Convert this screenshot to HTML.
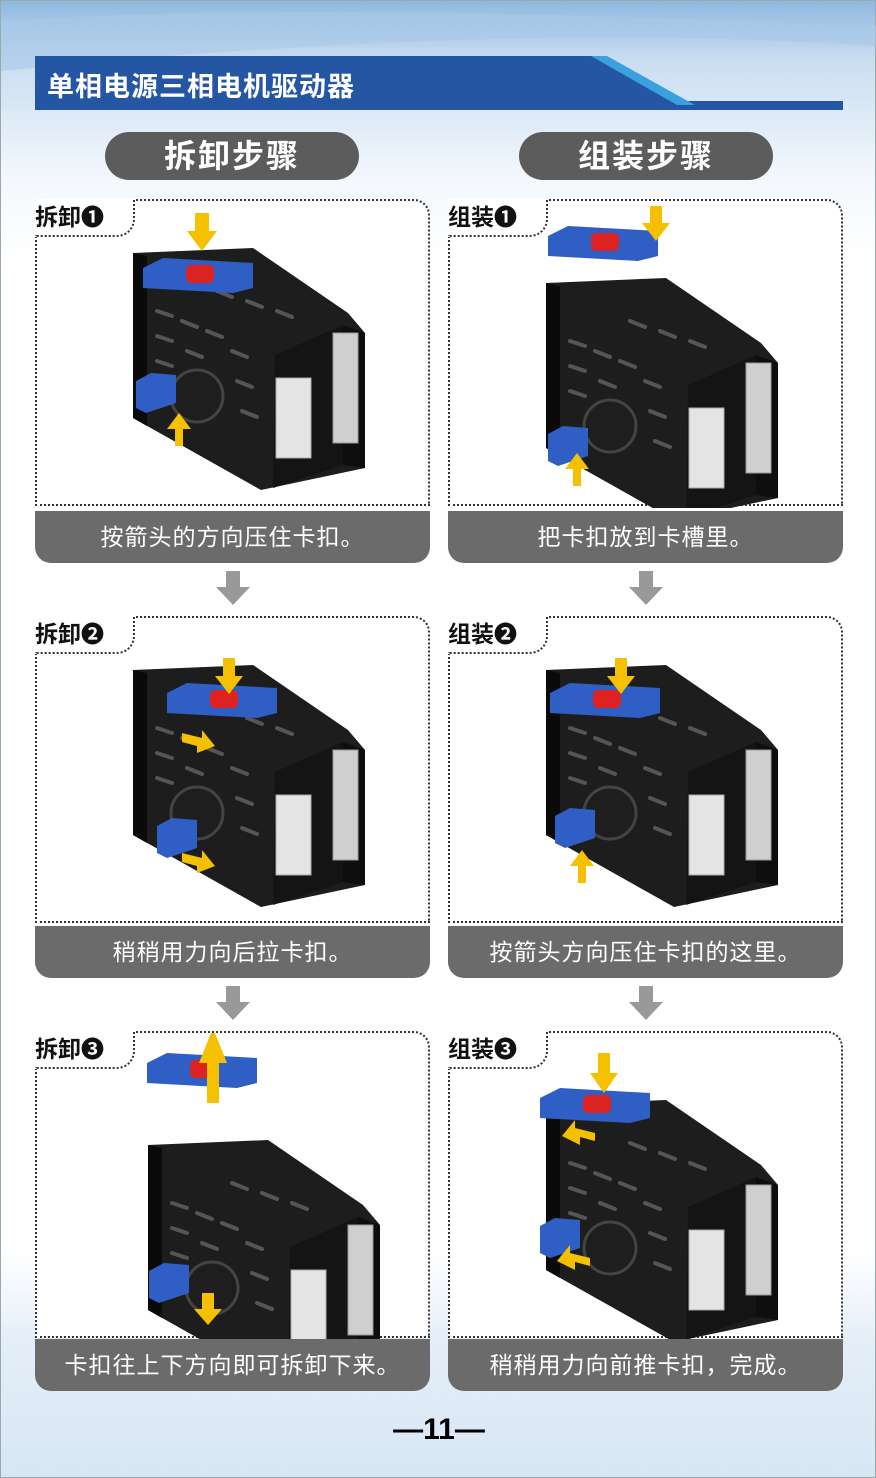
<!DOCTYPE html>
<html><head><meta charset="utf-8"><style>
*{margin:0;padding:0;box-sizing:border-box}
body{width:876px;height:1478px;position:relative;overflow:hidden;font-family:"Liberation Sans","Noto Sans CJK SC",sans-serif;background:linear-gradient(180deg,#8fb8e0 0px,#c9ddf1 60px,#f4f8fc 180px,#fff 260px,#fff 1250px,#e4eef8 1340px,#d8e6f4 1478px);border:1px solid #9aa;}
.title{position:absolute;left:46px;top:64px;color:#fff;font-size:27px;font-weight:bold;letter-spacing:1px}
.pill{position:absolute;top:131px;height:48px;width:254px;border-radius:24px;background:#5c5c5c;color:#fff;font-size:32px;font-weight:bold;text-align:center;line-height:48px;letter-spacing:2px}
.box{position:absolute;width:395px;height:307px;border:2px dotted #333;border-radius:0 16px 0 0;background:#fff}
.tab{position:absolute;left:-2px;top:-2px;width:100px;height:38px;background:#fff;border-right:2px dotted #333;border-bottom:2px dotted #333;border-radius:0 0 18px 0;font-size:23px;font-weight:bold;line-height:36px;padding-left:0;color:#111}
.cap{position:absolute;width:395px;height:52px;background:#6b6b6b;border-radius:0 0 16px 16px;color:#fff;font-size:23px;text-align:center;line-height:52px;letter-spacing:1px}
.ar{position:absolute}
svg.dev{position:absolute;left:0;top:0}
.pg{position:absolute;left:0;width:876px;top:1412px;text-align:center;font-size:30px;font-weight:bold}
</style></head><body>
<svg style="position:absolute;left:0;top:0" width="876" height="130">
<path d="M0 20 Q300 0 876 25 L876 45 Q500 20 0 70Z" fill="#a9c8e8" opacity=".6"/>
<polygon points="34,55 598,55 680,100 842,100 842,109 34,109" fill="#2456a4"/>
<polygon points="590,55 606,55 694,104 676,104" fill="#3aa0e0"/>
</svg>
<div class="title">单相电源三相电机驱动器</div>
<div class="pill" style="left:104px">拆卸步骤</div>
<div class="pill" style="left:518px">组装步骤</div>

<svg width="0" height="0" style="position:absolute"><defs>
<g id="dev">
<polygon points="96,52 216,47 311,112 328,132 328,267 224,289 96,217" fill="#1d1d1d"/>
<polygon points="96,52 110,55 110,225 96,217" fill="#0a0a0a"/>
<polygon points="238,154 306,124 306,264 236,287" fill="#141414"/>
<polygon points="306,124 328,132 328,267 306,264" fill="#0e0e0e"/>
<g stroke="#555" stroke-width="4" stroke-linecap="round">
<line x1="120" y1="110" x2="135" y2="115"/><line x1="145" y1="120" x2="160" y2="126"/><line x1="170" y1="130" x2="185" y2="136"/>
<line x1="120" y1="135" x2="135" y2="140"/><line x1="150" y1="150" x2="165" y2="156"/><line x1="195" y1="150" x2="210" y2="156"/>
<line x1="120" y1="160" x2="135" y2="165"/><line x1="200" y1="180" x2="215" y2="186"/><line x1="205" y1="210" x2="220" y2="216"/>
<line x1="180" y1="90" x2="195" y2="96"/><line x1="210" y1="100" x2="225" y2="106"/><line x1="240" y1="110" x2="255" y2="116"/>
</g>
<circle cx="160" cy="195" r="26" fill="#1e1e1e" stroke="#444" stroke-width="3"/>
<rect x="239" y="177" width="35" height="80" fill="#e4e4e4" stroke="#aaa"/>
<rect x="296" y="132" width="25" height="110" fill="#cfcfcf" stroke="#999"/>
</g>
<g id="clip"><polygon points="0,10 20,0 110,5 110,30 90,35 0,30" fill="#2f5fc4"/><rect x="43" y="7" width="28" height="18" rx="5" fill="#d22"/></g>
<g id="clipd"><polygon points="0,8 15,0 40,2 40,30 10,40 0,35" fill="#2f5fc4"/></g>
</defs></svg>

<div class="box" style="left:34px;top:198px"><svg class="dev" width="395" height="307"><use href="#dev"/><use href="#clip" x="106" y="57"/><use href="#clipd" x="99" y="172"/><polygon points="158,12 172,12 172,30 180,30 165,50 150,30 158,30" fill="#f4c000"/><polygon points="138,245 146,245 146,228 154,228 142,212 130,228 138,228" fill="#f4c000"/></svg><div class="tab">拆卸❶</div></div>
<div class="cap" style="left:34px;top:510px">按箭头的方向压住卡扣。</div>
<div class="box" style="left:447px;top:198px"><svg class="dev" width="395" height="307"><g transform="translate(0,30)"><use href="#dev"/></g><use href="#clip" x="98" y="25"/><use href="#clipd" x="98" y="225"/><polygon points="200,5 212,5 212,22 220,22 206,40 192,22 200,22" fill="#f4c000"/><polygon points="123,285 131,285 131,268 139,268 127,252 115,268 123,268" fill="#f4c000"/></svg><div class="tab">组装❶</div></div>
<div class="cap" style="left:447px;top:510px">把卡扣放到卡槽里。</div>
<svg class="ar" style="left:214px;top:570px" width="36" height="36"><polygon points="11,0 25,0 25,16 35,16 18,34 1,16 11,16" fill="#999"/></svg>
<svg class="ar" style="left:627px;top:570px" width="36" height="36"><polygon points="11,0 25,0 25,16 35,16 18,34 1,16 11,16" fill="#999"/></svg>

<div class="box" style="left:34px;top:615px"><svg class="dev" width="395" height="307"><use href="#dev"/><use href="#clip" x="130" y="65"/><use href="#clipd" x="120" y="200"/><polygon points="186,40 198,40 198,58 206,58 192,76 178,58 186,58" fill="#f4c000"/><polygon points="145,115 165,120 165,112 178,128 160,135 160,128 145,124" fill="#f4c000"/><polygon points="145,235 165,240 165,232 178,248 160,255 160,248 145,244" fill="#f4c000"/></svg><div class="tab">拆卸❷</div></div>
<div class="cap" style="left:34px;top:925px">稍稍用力向后拉卡扣。</div>
<div class="box" style="left:447px;top:615px"><svg class="dev" width="395" height="307"><use href="#dev"/><use href="#clip" x="100" y="65"/><use href="#clipd" x="105" y="190"/><polygon points="165,40 177,40 177,58 185,58 171,76 157,58 165,58" fill="#f4c000"/><polygon points="128,265 136,265 136,248 144,248 132,232 120,248 128,248" fill="#f4c000"/></svg><div class="tab">组装❷</div></div>
<div class="cap" style="left:447px;top:925px">按箭头方向压住卡扣的这里。</div>
<svg class="ar" style="left:214px;top:985px" width="36" height="36"><polygon points="11,0 25,0 25,16 35,16 18,34 1,16 11,16" fill="#999"/></svg>
<svg class="ar" style="left:627px;top:985px" width="36" height="36"><polygon points="11,0 25,0 25,16 35,16 18,34 1,16 11,16" fill="#999"/></svg>

<div class="box" style="left:34px;top:1030px"><svg class="dev" width="395" height="307"><g transform="translate(15,60)"><use href="#dev"/></g><use href="#clip" x="110" y="20"/><use href="#clipd" x="112" y="230"/><polygon points="170,70 182,70 182,30 190,30 176,-5 162,30 170,30" fill="#f4c000"/><polygon points="165,260 177,260 177,276 185,276 171,292 157,276 165,276" fill="#f4c000"/></svg><div class="tab">拆卸❸</div></div>
<div class="cap" style="left:34px;top:1338px">卡扣往上下方向即可拆卸下来。</div>
<div class="box" style="left:447px;top:1030px"><svg class="dev" width="395" height="307"><g transform="translate(0,20)"><use href="#dev"/></g><use href="#clip" x="90" y="55"/><use href="#clipd" x="90" y="185"/><polygon points="148,20 160,20 160,40 168,40 154,60 140,40 148,40" fill="#f4c000"/><polygon points="145,100 125,95 125,87 112,103 130,112 130,104 145,108" fill="#f4c000"/><polygon points="140,225 120,220 120,212 107,228 125,237 125,229 140,233" fill="#f4c000"/></svg><div class="tab">组装❸</div></div>
<div class="cap" style="left:447px;top:1338px">稍稍用力向前推卡扣，完成。</div>

<div class="pg">—11—</div>
</body></html>
